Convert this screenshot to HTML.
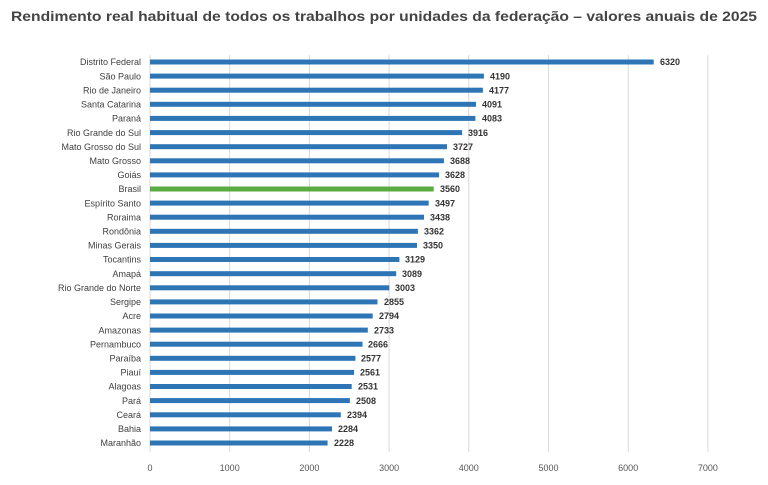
<!DOCTYPE html>
<html><head><meta charset="utf-8"><style>
body{margin:0;background:#fff;width:768px;height:485px;overflow:hidden}
svg{display:block}
.l{font:9px "Liberation Sans",sans-serif;fill:#404040;text-anchor:end}
.v{font:bold 9px "Liberation Sans",sans-serif;fill:#333}
.t{font:9px "Liberation Sans",sans-serif;fill:#555;text-anchor:middle}
</style></head><body>
<svg width="768" height="485" xmlns="http://www.w3.org/2000/svg">
<text x="11" y="21" textLength="746" lengthAdjust="spacingAndGlyphs" style="font:bold 14px 'Liberation Sans',sans-serif;fill:#444">Rendimento real habitual de todos os trabalhos por unidades da federação – valores anuais de 2025</text>
<g stroke="#d9d9d9" stroke-width="1">
<line x1="150" y1="55" x2="150" y2="452"/><line x1="229.7" y1="55" x2="229.7" y2="452"/><line x1="309.4" y1="55" x2="309.4" y2="452"/><line x1="389.1" y1="55" x2="389.1" y2="452"/><line x1="468.8" y1="55" x2="468.8" y2="452"/><line x1="548.5" y1="55" x2="548.5" y2="452"/><line x1="628.2" y1="55" x2="628.2" y2="452"/><line x1="707.9" y1="55" x2="707.9" y2="452"/>
</g>
<g>
<text class="t" x="150" y="471">0</text><text class="t" x="229.7" y="471">1000</text><text class="t" x="309.4" y="471">2000</text><text class="t" x="389.1" y="471">3000</text><text class="t" x="468.8" y="471">4000</text><text class="t" x="548.5" y="471">5000</text><text class="t" x="628.2" y="471">6000</text><text class="t" x="707.9" y="471">7000</text>
</g>
<g fill="#2e75b6">
<rect x="150" y="59.5" width="503.7" height="5"/>
<rect x="150" y="73.6" width="333.9" height="5"/>
<rect x="150" y="87.7" width="332.9" height="5"/>
<rect x="150" y="101.8" width="326.0" height="5"/>
<rect x="150" y="115.9" width="325.4" height="5"/>
<rect x="150" y="130.1" width="312.1" height="5"/>
<rect x="150" y="144.2" width="297.0" height="5"/>
<rect x="150" y="158.3" width="293.9" height="5"/>
<rect x="150" y="172.4" width="289.1" height="5"/>
<rect x="150" y="186.5" width="283.7" height="5" fill="#5bab43"/>
<rect x="150" y="200.6" width="278.7" height="5"/>
<rect x="150" y="214.7" width="274.0" height="5"/>
<rect x="150" y="228.8" width="267.9" height="5"/>
<rect x="150" y="242.9" width="267.0" height="5"/>
<rect x="150" y="257.0" width="249.4" height="5"/>
<rect x="150" y="271.2" width="246.2" height="5"/>
<rect x="150" y="285.3" width="239.3" height="5"/>
<rect x="150" y="299.4" width="227.5" height="5"/>
<rect x="150" y="313.5" width="222.7" height="5"/>
<rect x="150" y="327.6" width="217.8" height="5"/>
<rect x="150" y="341.7" width="212.5" height="5"/>
<rect x="150" y="355.8" width="205.4" height="5"/>
<rect x="150" y="369.9" width="204.1" height="5"/>
<rect x="150" y="384.0" width="201.7" height="5"/>
<rect x="150" y="398.1" width="199.9" height="5"/>
<rect x="150" y="412.3" width="190.8" height="5"/>
<rect x="150" y="426.4" width="182.0" height="5"/>
<rect x="150" y="440.5" width="177.6" height="5"/>
</g>
<g>
<text class="l" x="141" y="65.2">Distrito Federal</text><text class="v" x="660" y="65.2">6320</text>
<text class="l" x="141" y="79.3">São Paulo</text><text class="v" x="490" y="79.3">4190</text>
<text class="l" x="141" y="93.4">Rio de Janeiro</text><text class="v" x="489" y="93.4">4177</text>
<text class="l" x="141" y="107.5">Santa Catarina</text><text class="v" x="482" y="107.5">4091</text>
<text class="l" x="141" y="121.6">Paraná</text><text class="v" x="482" y="121.6">4083</text>
<text class="l" x="141" y="135.8">Rio Grande do Sul</text><text class="v" x="468" y="135.8">3916</text>
<text class="l" x="141" y="149.9">Mato Grosso do Sul</text><text class="v" x="453" y="149.9">3727</text>
<text class="l" x="141" y="164.0">Mato Grosso</text><text class="v" x="450" y="164.0">3688</text>
<text class="l" x="141" y="178.1">Goiás</text><text class="v" x="445" y="178.1">3628</text>
<text class="l" x="141" y="192.2">Brasil</text><text class="v" x="440" y="192.2">3560</text>
<text class="l" x="141" y="206.3">Espírito Santo</text><text class="v" x="435" y="206.3">3497</text>
<text class="l" x="141" y="220.4">Roraima</text><text class="v" x="430" y="220.4">3438</text>
<text class="l" x="141" y="234.5">Rondônia</text><text class="v" x="424" y="234.5">3362</text>
<text class="l" x="141" y="248.6">Minas Gerais</text><text class="v" x="423" y="248.6">3350</text>
<text class="l" x="141" y="262.7">Tocantins</text><text class="v" x="405" y="262.7">3129</text>
<text class="l" x="141" y="276.9">Amapá</text><text class="v" x="402" y="276.9">3089</text>
<text class="l" x="141" y="291.0">Rio Grande do Norte</text><text class="v" x="395" y="291.0">3003</text>
<text class="l" x="141" y="305.1">Sergipe</text><text class="v" x="384" y="305.1">2855</text>
<text class="l" x="141" y="319.2">Acre</text><text class="v" x="379" y="319.2">2794</text>
<text class="l" x="141" y="333.3">Amazonas</text><text class="v" x="374" y="333.3">2733</text>
<text class="l" x="141" y="347.4">Pernambuco</text><text class="v" x="368" y="347.4">2666</text>
<text class="l" x="141" y="361.5">Paraíba</text><text class="v" x="361" y="361.5">2577</text>
<text class="l" x="141" y="375.6">Piauí</text><text class="v" x="360" y="375.6">2561</text>
<text class="l" x="141" y="389.7">Alagoas</text><text class="v" x="358" y="389.7">2531</text>
<text class="l" x="141" y="403.8">Pará</text><text class="v" x="356" y="403.8">2508</text>
<text class="l" x="141" y="418.0">Ceará</text><text class="v" x="347" y="418.0">2394</text>
<text class="l" x="141" y="432.1">Bahia</text><text class="v" x="338" y="432.1">2284</text>
<text class="l" x="141" y="446.2">Maranhão</text><text class="v" x="334" y="446.2">2228</text>
</g>
</svg>
</body></html>
